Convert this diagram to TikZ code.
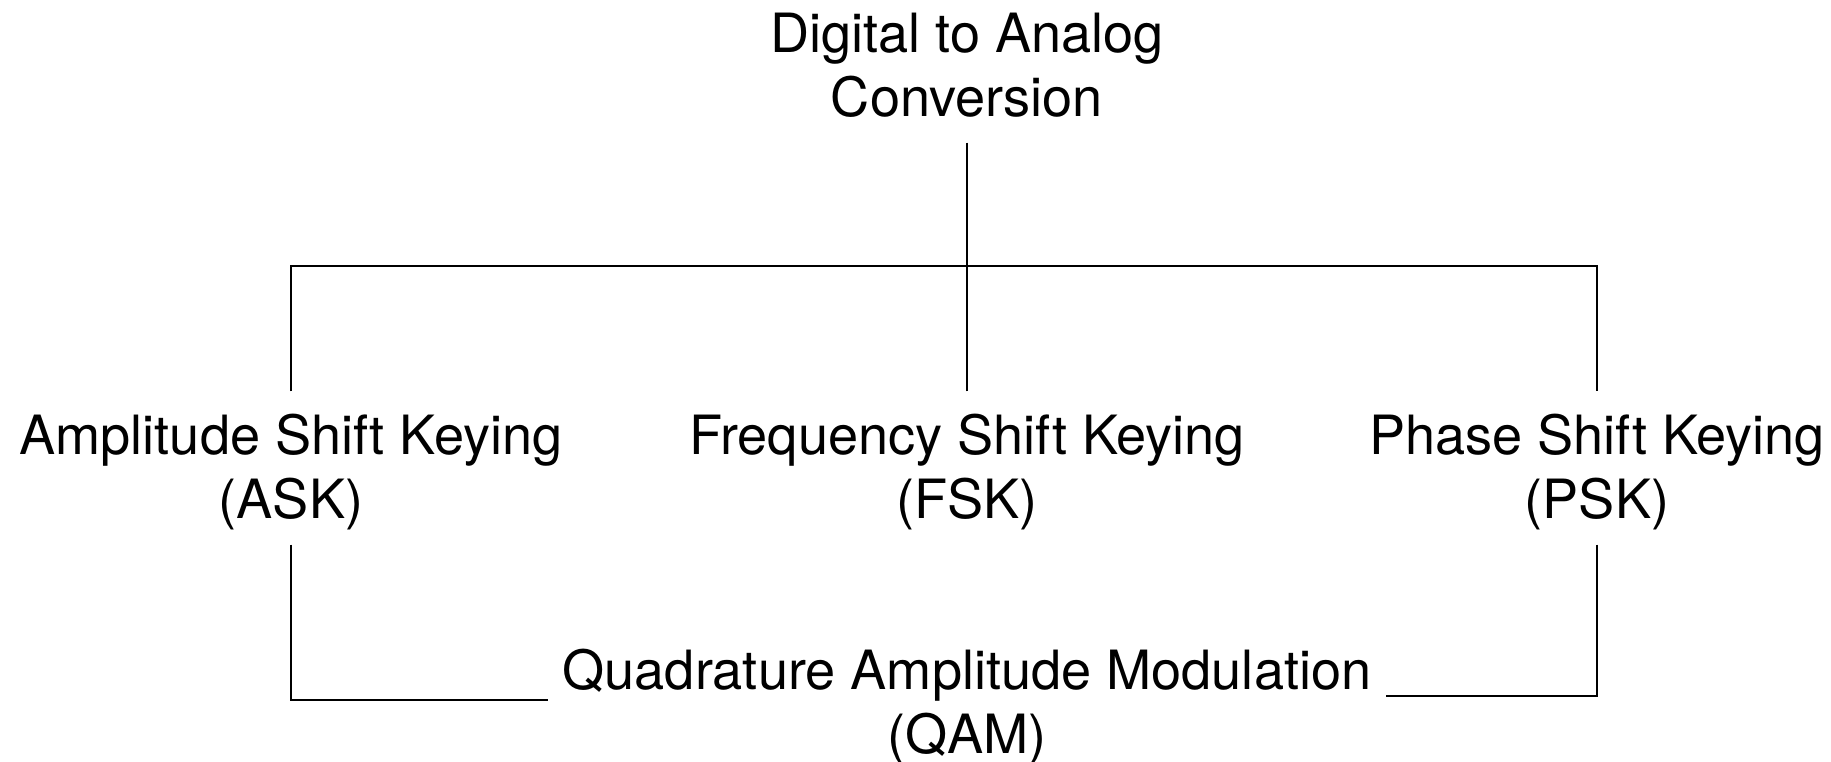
\documentclass[tikz,border=0pt]{standalone}
\usepackage{fontspec}
\setmainfont{TeX Gyre Heros}
\usetikzlibrary{positioning}

\begin{document}
\begin{tikzpicture}[lbl/.style={align=center,font=\fontsize{15.4}{18.2}\selectfont,inner xsep=0.14cm,inner ysep=0.06cm},
  link/.style={line width=0.75pt}]
\useasboundingbox (0,0) rectangle (18.31,-7.61);
\node[lbl] (dac) at (9.67,-0.72) {\strut Digital to Analog\\\strut Conversion};
\node[lbl] (ask) at (2.91,-4.74) {\strut Amplitude Shift Keying\\\strut (ASK)};
\node[lbl] (fsk) at (9.67,-4.74) {\strut Frequency Shift Keying\\\strut (FSK)};
\node[lbl] (psk) at (15.97,-4.74) {\strut Phase Shift Keying\\\strut (PSK)};
\node[lbl] (qam) at (9.67,-7.09) {\strut Quadrature Amplitude Modulation\\\strut (QAM)};
\coordinate (bus) at (9.67,-2.66);
% tree from the top
\draw[link] (dac.south) -- (dac.south |- bus);
\draw[link] ([yshift=0.12cm]ask.north) |- (bus -| psk.north) -- ([yshift=0.12cm]psk.north);
\draw[link] ([yshift=0.12cm]fsk.north) -- (fsk.north |- bus);
% both keyings meet in QAM
\draw[link] (ask.south) |- ([yshift=0.09cm]qam.west);
\draw[link] (psk.south) |- ([yshift=0.13cm]qam.east);
\end{tikzpicture}
\end{document}
